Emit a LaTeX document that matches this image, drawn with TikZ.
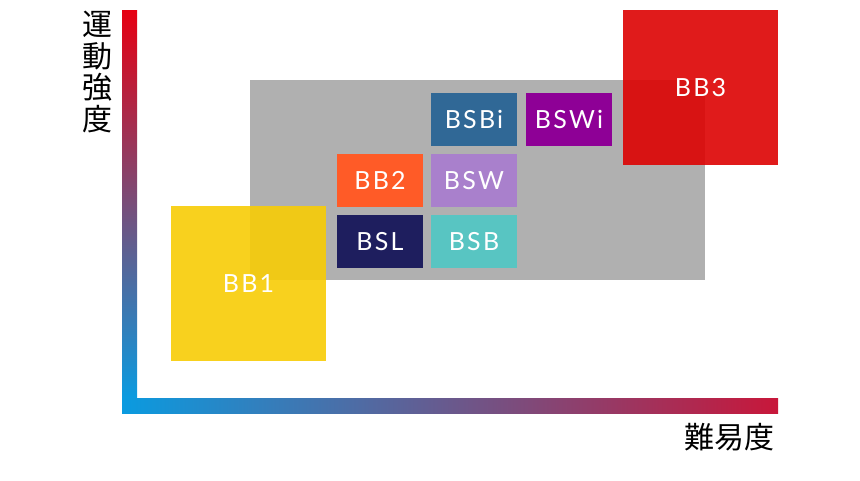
\documentclass[tikz,border=0pt]{standalone}
\usepackage{fontspec}
\setmainfont{Lato}
\newfontfamily\cjkfont{Noto Sans CJK JP}
\newfontfamily\lblfont[LetterSpace=9]{Lato}
\definecolor{axred}{HTML}{E60012}
\definecolor{axmid}{HTML}{B02242}
\definecolor{axblue}{HTML}{0A9BE0}
\definecolor{axend}{HTML}{C8173A}
\definecolor{grayarea}{HTML}{B0B0B0}
\definecolor{cyellow}{RGB}{247,204,6}
\definecolor{cred}{RGB}{221,2,2}
\definecolor{cbsbi}{HTML}{306896}
\definecolor{cbswi}{HTML}{8E0096}
\definecolor{cbb2}{HTML}{FF5B27}
\definecolor{cbsw}{HTML}{A980CC}
\definecolor{cbsl}{HTML}{1E1E5E}
\definecolor{cbsb}{HTML}{58C5C2}
\tikzset{
  smallbox/.style={inner sep=0pt, minimum width=86pt, minimum height=53pt, text=white,
    font=\lblfont\fontsize{25}{25}\selectfont},
  bigbox/.style={inner sep=0pt, minimum width=155pt, minimum height=155pt, text=white,
    fill opacity=0.9, text opacity=1, font=\lblfont\fontsize{25}{25}\selectfont},
  axislabel/.style={inner sep=0pt, text=black, font=\cjkfont\fontsize{30}{31.5}\selectfont, align=center}
}
\begin{document}
\begin{tikzpicture}[x=1pt,y=-1pt]
\useasboundingbox (0,0) rectangle (860,480);
% axes
\shade[top color=axred, middle color=axmid, bottom color=axblue] (122,10) rectangle (137,398);
\shade[left color=axblue, right color=axend] (122,398) rectangle (778,413);
% gray area
\node[fill=grayarea, inner sep=0pt, minimum width=455pt, minimum height=200pt] (area) at (477.5,180) {};
% small boxes
\node[smallbox, fill=cbsbi] (bsbi) at (474,119.5) {BSBi};
\node[smallbox, fill=cbswi] (bswi) at (569,119.5) {BSWi};
\node[smallbox, fill=cbb2]  (bb2)  at (380,180.5) {BB2};
\node[smallbox, fill=cbsw]  (bsw)  at (474,180.5) {BSW};
\node[smallbox, fill=cbsl]  (bsl)  at (380,241.5) {BSL};
\node[smallbox, fill=cbsb]  (bsb)  at (474,241.5) {BSB};
% big squares
\node[bigbox, fill=cyellow] (bb1) at (248.5,283.5) {BB1};
\node[bigbox, fill=cred]    (bb3) at (700.5,87.5) {BB3};
% axis labels
\node[axislabel] (ylab) at (97,72) {運\\動\\強\\度};
\node[axislabel] (xlab) at (729,437.5) {難易度};
\end{tikzpicture}
\end{document}
